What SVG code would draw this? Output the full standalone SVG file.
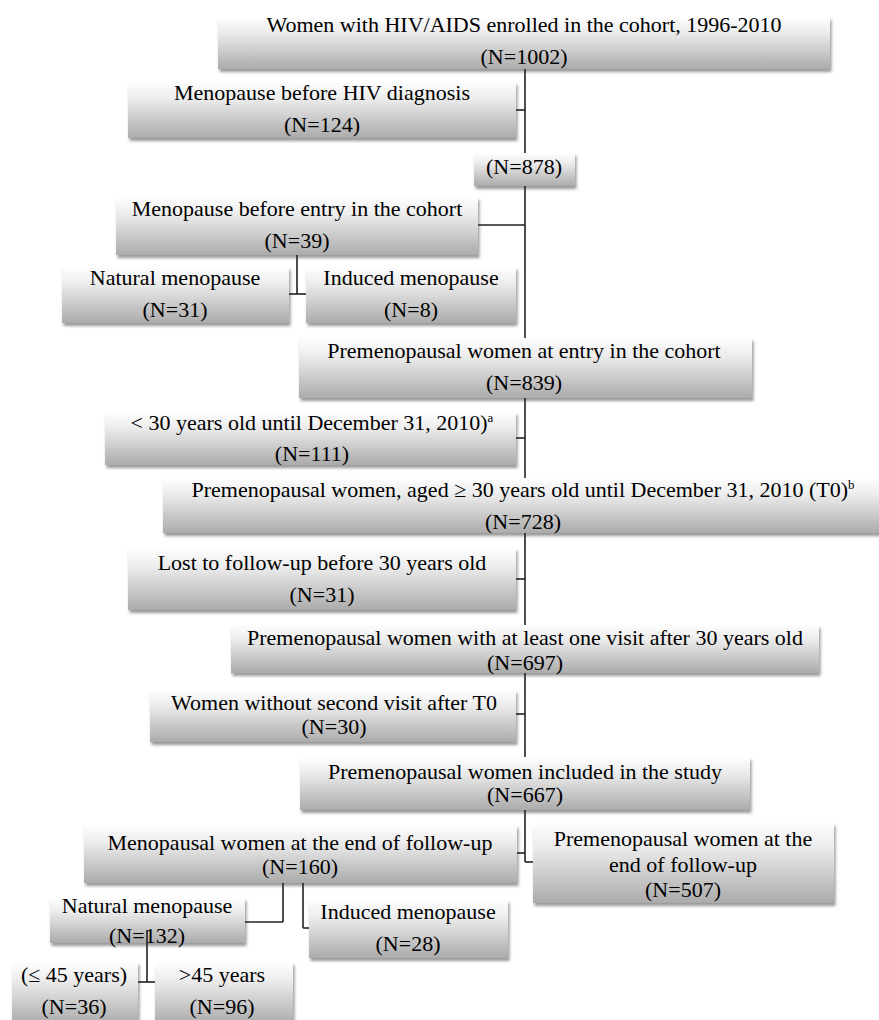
<svg xmlns="http://www.w3.org/2000/svg" width="879" height="1020" viewBox="0 0 879 1020">
<style>
.box{fill:url(#g);filter:url(#sh)}
text{font-family:"Liberation Serif","DejaVu Serif",serif;font-size:22px;fill:#000;text-anchor:middle}
.sup{font-size:13px}
.c line{stroke:#222;stroke-width:1.6}
</style>
<defs>
<linearGradient id="g" x1="0" y1="0" x2="0" y2="1">
<stop offset="0" stop-color="#fefefe"/>
<stop offset="0.3" stop-color="#ececec"/>
<stop offset="1" stop-color="#ababab"/>
</linearGradient>
<filter id="sh" x="-5%" y="-10%" width="110%" height="130%">
<feDropShadow dx="1.5" dy="3" stdDeviation="1.8" flood-color="#000" flood-opacity="0.4"/>
</filter>
</defs>
<rect width="879" height="1020" fill="#fff"/>
<g id="n1"><rect class="box" x="218" y="17" width="612" height="52"/>
<text x="524" y="32">Women with HIV/AIDS enrolled in the cohort, 1996-2010</text>
<text x="524" y="64">(N=1002)</text></g>
<g id="n2"><rect class="box" x="128" y="82" width="388" height="56"/>
<text x="322" y="100">Menopause before HIV diagnosis</text>
<text x="322" y="132">(N=124)</text></g>
<g id="n3"><rect class="box" x="474" y="153" width="101" height="33"/>
<text x="524" y="174">(N=878)</text></g>
<g id="n4"><rect class="box" x="116" y="197" width="362" height="58"/>
<text x="297" y="216">Menopause before entry in the cohort</text>
<text x="297" y="248">(N=39)</text></g>
<g id="n5"><rect class="box" x="62" y="267" width="227" height="56"/>
<text x="175" y="285">Natural menopause</text>
<text x="175" y="317">(N=31)</text></g>
<g id="n6"><rect class="box" x="306" y="267" width="210" height="56"/>
<text x="411" y="285">Induced menopause</text>
<text x="411" y="317">(N=8)</text></g>
<g id="n7"><rect class="box" x="299" y="338" width="453" height="60"/>
<text x="524" y="358">Premenopausal women at entry in the cohort</text>
<text x="524" y="390">(N=839)</text></g>
<g id="n8"><rect class="box" x="105" y="412" width="411" height="53"/>
<text x="312" y="430">&lt; 30 years old until December 31, 2010)<tspan class="sup" dy="-8">a</tspan></text>
<text x="312" y="461">(N=111)</text></g>
<g id="n9"><rect class="box" x="163" y="478" width="720" height="55"/>
<text x="523" y="497">Premenopausal women, aged ≥ 30 years old until December 31, 2010 (T0)<tspan class="sup" dy="-8">b</tspan></text>
<text x="523" y="529">(N=728)</text></g>
<g id="n10"><rect class="box" x="128" y="548" width="388" height="62"/>
<text x="322" y="570">Lost to follow-up before 30 years old</text>
<text x="322" y="602">(N=31)</text></g>
<g id="n11"><rect class="box" x="231" y="625" width="588" height="48"/>
<text x="525" y="645">Premenopausal women with at least one visit after 30 years old</text>
<text x="525" y="670">(N=697)</text></g>
<g id="n12"><rect class="box" x="150" y="690" width="366" height="52"/>
<text x="334" y="710">Women without second visit after T0</text>
<text x="334" y="734">(N=30)</text></g>
<g id="n13"><rect class="box" x="300" y="757" width="450" height="53"/>
<text x="525" y="779">Premenopausal women included in the study</text>
<text x="525" y="802">(N=667)</text></g>
<g id="n14"><rect class="box" x="84" y="825" width="433" height="58"/>
<text x="300" y="850">Menopausal women at the end of follow-up</text>
<text x="300" y="874">(N=160)</text></g>
<g id="n15"><rect class="box" x="533" y="823" width="301" height="80"/>
<text x="683" y="846">Premenopausal women at the</text>
<text x="683" y="872">end of follow-up</text>
<text x="683" y="897">(N=507)</text></g>
<g id="n16"><rect class="box" x="50" y="898" width="195" height="45"/>
<text x="147" y="913">Natural menopause</text>
<text x="147" y="943">(N=132)</text></g>
<g id="n17"><rect class="box" x="309" y="900" width="199" height="58"/>
<text x="408" y="919">Induced menopause</text>
<text x="408" y="951">(N=28)</text></g>
<g id="n18"><rect class="box" x="12" y="962" width="126" height="62"/>
<text x="74" y="982">(≤ 45 years)</text>
<text x="74" y="1014">(N=36)</text></g>
<g id="n19"><rect class="box" x="155" y="962" width="138" height="62"/>
<text x="222" y="982">&gt;45 years</text>
<text x="222" y="1014">(N=96)</text></g>
<g id="connectors" class="c">
<line x1="525" y1="69" x2="525" y2="153"/>
<line x1="516" y1="110" x2="525" y2="110"/>
<line x1="525" y1="186" x2="525" y2="338"/>
<line x1="478" y1="225" x2="525" y2="225"/>
<line x1="297" y1="255" x2="297" y2="294"/>
<line x1="289" y1="294" x2="306" y2="294"/>
<line x1="525" y1="398" x2="525" y2="478"/>
<line x1="516" y1="438" x2="525" y2="438"/>
<line x1="525" y1="533" x2="525" y2="625"/>
<line x1="516" y1="579" x2="525" y2="579"/>
<line x1="525" y1="673" x2="525" y2="757"/>
<line x1="516" y1="714" x2="525" y2="714"/>
<line x1="525" y1="810" x2="525" y2="862"/>
<line x1="517" y1="853" x2="525" y2="853"/>
<line x1="525" y1="862" x2="533" y2="862"/>
<line x1="283" y1="883" x2="283" y2="922"/>
<line x1="245" y1="922" x2="283" y2="922"/>
<line x1="303" y1="883" x2="303" y2="928"/>
<line x1="303" y1="928" x2="309" y2="928"/>
<line x1="147" y1="930" x2="147" y2="982"/>
<line x1="138" y1="982" x2="155" y2="982"/>
</g>
</svg>
